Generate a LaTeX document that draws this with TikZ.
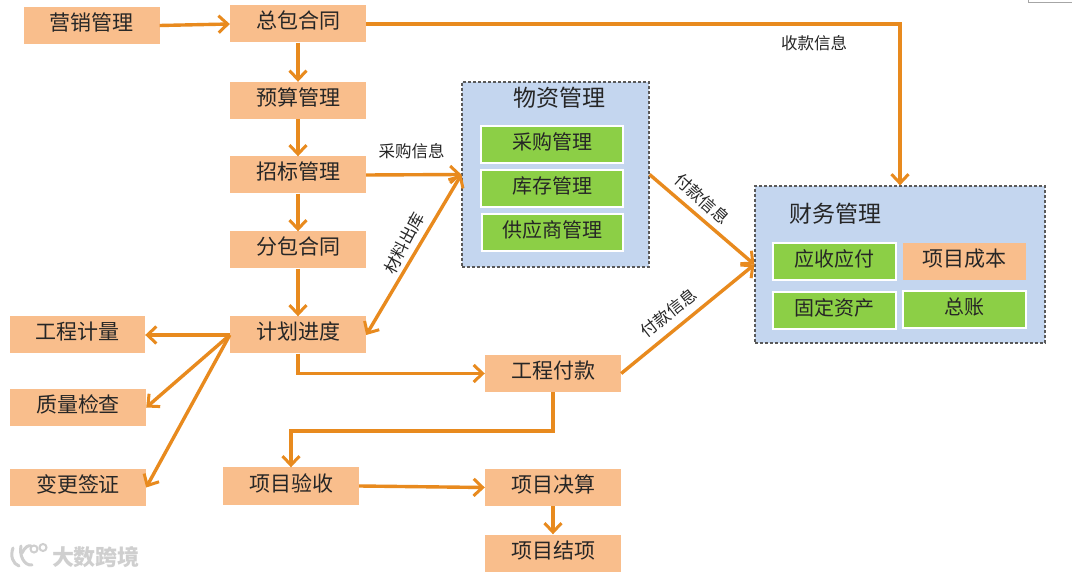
\documentclass[tikz,border=0pt]{standalone}
\usepackage{fontspec}
\setmainfont{Noto Sans CJK SC}
\usetikzlibrary{arrows.meta}
\definecolor{boxor}{HTML}{F9BE8C}
\definecolor{boxgr}{HTML}{8CCF46}
\definecolor{boxbl}{HTML}{C4D6EF}
\definecolor{arrowor}{HTML}{E88A1E}
\definecolor{txt}{HTML}{262626}
\definecolor{wm}{HTML}{CFCFCF}
\tikzset{
  basebox/.style={inner sep=0pt,align=center,text=txt,font=\fontsize{21}{21}\selectfont,text height=15pt,text depth=5pt},
  obox/.style={basebox,fill=boxor,minimum width=136pt,minimum height=37pt},
  sbox/.style={basebox,fill=boxor,minimum width=123pt,minimum height=37pt},
  gbox/.style={basebox,fill=boxgr,draw=white,line width=1.2pt,minimum height=37pt,font=\fontsize{20}{20}\selectfont},
  group/.style={fill=boxbl,draw=black!65,densely dashed,line width=1.2pt,inner sep=0pt},
  title/.style={inner sep=0pt,text=txt,font=\fontsize{23}{23}\selectfont},
  lab/.style={inner sep=0pt,text=txt,font=\fontsize{16.5}{17}\selectfont},
  flow/.style={draw=arrowor,line width=3.4pt,-{Straight Barb[length=9pt,width=17pt,line width=3pt]}},
  flowboth/.style={draw=arrowor,line width=3.4pt,{Straight Barb[length=9pt,width=17pt,line width=3pt]}-{Straight Barb[length=9pt,width=17pt,line width=3pt]}},
  mark line/.style={draw=wm,line width=3pt,line cap=round}
}
\begin{document}
\begin{tikzpicture}[x=1pt,y=-1pt]
\useasboundingbox (0,0) rectangle (1080,577);
\fill[white] (0,0) rectangle (1080,577);
% left column
\node[obox] (yx) at (91.5,25.5) {营销管理};
\node[obox] (ht) at (298,24) {总包合同};
\node[obox] (ys) at (298,100.5) {预算管理};
\node[obox] (zb) at (298,175) {招标管理};
\node[obox] (fb) at (298,250) {分包合同};
\node[obox] (jh) at (298,335) {计划进度};
\node[obox,minimum width=135pt] (jl) at (77.5,335) {工程计量};
\node[obox] (zl) at (78,407.5) {质量检查};
\node[obox] (bg) at (78,487.5) {变更签证};
\node[obox] (fk) at (553,373.5) {工程付款};
\node[obox] (ysh) at (291,486) {项目验收};
\node[obox] (js) at (553,487.5) {项目决算};
\node[obox] (jx) at (553,553) {项目结项};
% material group
\node[group,minimum width=187pt,minimum height=185pt] (wu) at (555.5,174.5) {};
\node[title] (wut) at (559,98) {物资管理};
\node[gbox,minimum width=142pt] (cg) at (552,144.5) {采购管理};
\node[gbox,minimum width=142pt] (kc) at (552,188.5) {库存管理};
\node[gbox,minimum width=141pt] (gy) at (552.5,232.5) {供应商管理};
% finance group
\node[group,minimum width=290pt,minimum height=157pt] (cw) at (900,264.5) {};
\node[title] (cwt) at (835,214) {财务管理};
\node[gbox,minimum width=123pt] (ar) at (834.5,261.5) {应收应付};
\node[sbox] (cb) at (964.5,261.5) {项目成本};
\node[gbox,minimum width=123pt] (gd) at (834.5,310.5) {固定资产};
\node[gbox,minimum width=123pt] (zz) at (964.5,309.5) {总账};
% connectors
\draw[flow] (yx.east) -- (ht.west);
\draw[flow] (ht.south) -- (ys.north);
\draw[flow] (ys.south) -- (zb.north);
\draw[flow] (zb.south) -- (fb.north);
\draw[flow] (fb.south) -- (jh.north);
\draw[flow] (ht.east) -| (cw.north);
\draw[flow] (zb.east) -- (wu.west);
\draw[flowboth] (jh.east) -- (wu.west);
\draw[flow] (wu.east) -- (cw.west);
\draw[flow] (fk.east) -- (cw.west);
\draw[flow] (jh.west) -- (jl.east);
\draw[flow] (jh.west) -- (zl.east);
\draw[flow] (jh.west) -- (bg.east);
\draw[flow] (jh.south) |- (fk.west);
\draw[flow] (fk.south) -- ++(0,39) -| (ysh.north);
\draw[flow] (ysh.east) -- (js.west);
\draw[flow] (js.south) -- (jx.north);
% labels
\node[lab] (l1) at (814,43) {收款信息};
\node[lab] (l2) at (411.5,151) {采购信息};
\node[lab,rotate=62] (l3) at (404,243) {材料出库};
\node[lab,rotate=-42] (l4) at (702,199) {付款信息};
\node[lab,rotate=38] (l5) at (669,313) {付款信息};
% watermark
\node[inner sep=0pt,text=wm,font=\fontsize{22}{22}\bfseries\selectfont] (wmt) at (96,557) {大数跨境};
\draw[mark line] (13,548) .. controls (10,556) and (13,564) .. (19,566);
\draw[mark line] (21,546) .. controls (19,555) and (24,566) .. (32,565);
\draw[mark line] (22,553) .. controls (25,547) and (28,545) .. (31,546);
\draw[wm,line width=2pt] (34,549) circle (3.5pt);
\draw[wm,line width=2pt] (43,547.5) circle (3.5pt);
% corner trace
\draw[black!35,line width=1pt] (1028,0) -- (1028,3) -- (1072,3);
\end{tikzpicture}
\end{document}
